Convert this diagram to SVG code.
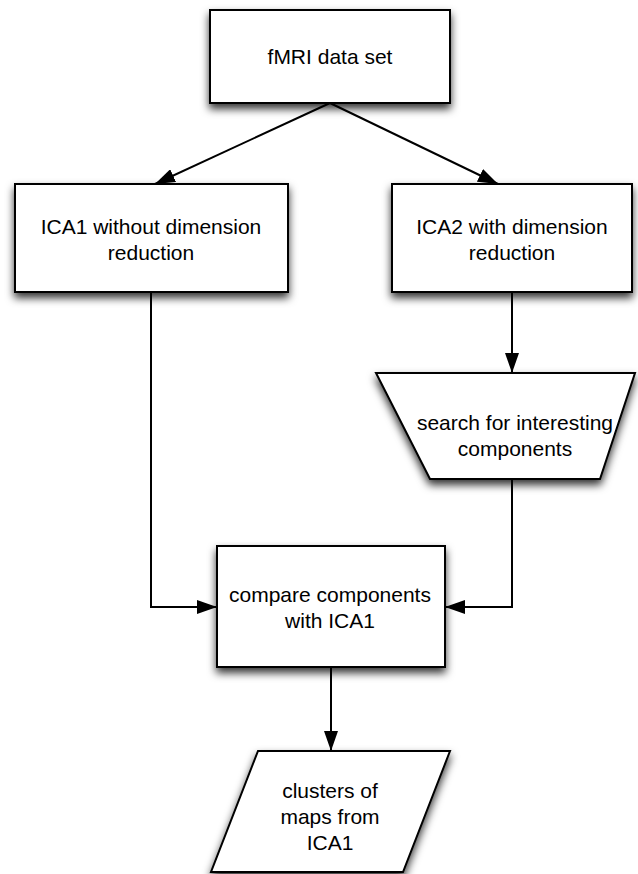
<svg xmlns="http://www.w3.org/2000/svg" width="638" height="874" viewBox="0 0 638 874">
  <defs>
    <filter id="shadow" x="-20%" y="-20%" width="140%" height="150%">
      <feDropShadow dx="0" dy="5" stdDeviation="4.5" flood-color="#000" flood-opacity="0.8"/>
    </filter>
    <marker id="arrow" viewBox="0 0 20 14" refX="20" refY="7" markerWidth="20" markerHeight="14" markerUnits="userSpaceOnUse" orient="auto">
      <path d="M0,0 L20,7 L0,14 Z" fill="#000"/>
    </marker>
  </defs>
  <style>
    .shape { fill: #fff; stroke: #000; stroke-width: 2; filter: url(#shadow); }
    .label { font-family: "Liberation Sans", Arial, Helvetica, sans-serif; font-size: 21px; fill: #000; text-anchor: middle; }
    .edge { fill: none; stroke: #000; stroke-width: 2; marker-end: url(#arrow); }
  </style>
  <rect width="638" height="874" fill="#fff"/>

  <g id="connectors">
    <path class="edge" d="M330,103 L155,184"/>
    <path class="edge" d="M330,103 L498,184"/>
    <path class="edge" d="M512,292 L512,373"/>
    <path class="edge" d="M151,292 L151,607 L217,607"/>
    <path class="edge" d="M512,479 L512,607 L445,607"/>
    <path class="edge" d="M331,667 L331,751"/>
  </g>

  <g id="fmri-data-set">
    <rect class="shape" x="210" y="10" width="240" height="93"/>
    <text class="label" x="330" y="64">fMRI data set</text>
  </g>

  <g id="ica1">
    <rect class="shape" x="15" y="184" width="273" height="108"/>
    <text class="label" x="151" y="234">ICA1 without dimension</text>
    <text class="label" x="151" y="260">reduction</text>
  </g>

  <g id="ica2">
    <rect class="shape" x="392" y="184" width="240" height="108"/>
    <text class="label" x="512" y="234">ICA2 with dimension</text>
    <text class="label" x="512" y="260">reduction</text>
  </g>

  <g id="search">
    <polygon class="shape" points="376,373 635,373 600,479 430,479"/>
    <text class="label" x="515" y="430">search for interesting</text>
    <text class="label" x="515" y="456">components</text>
  </g>

  <g id="compare">
    <rect class="shape" x="217" y="546" width="228" height="121"/>
    <text class="label" x="330" y="602">compare components</text>
    <text class="label" x="330" y="628">with ICA1</text>
  </g>

  <g id="clusters">
    <polygon class="shape" points="258,751 450,751 403,872 211,872"/>
    <text class="label" x="330" y="798">clusters of</text>
    <text class="label" x="330" y="824">maps from</text>
    <text class="label" x="330" y="850">ICA1</text>
  </g>
</svg>
